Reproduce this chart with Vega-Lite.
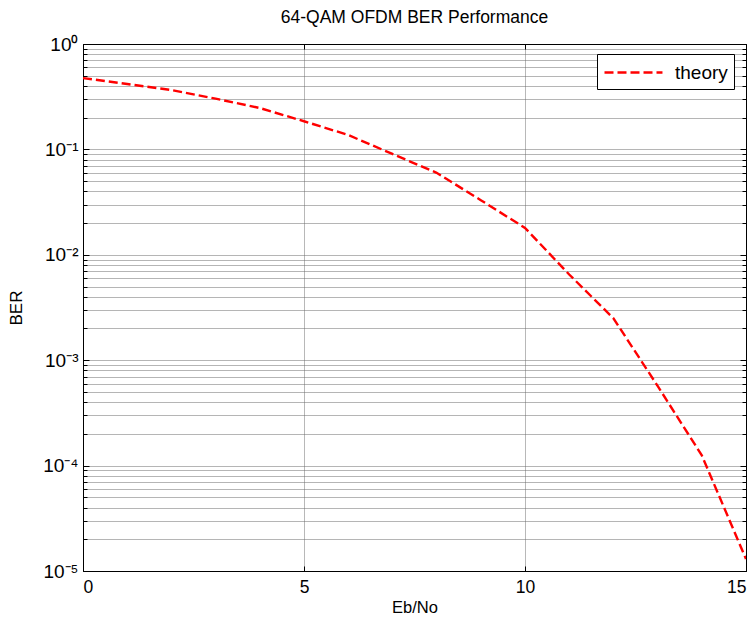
{
  "$schema": "https://vega.github.io/schema/vega-lite/v6.json",
  "width": 663,
  "height": 527,
  "autosize": "none",
  "padding": {"left": 83, "top": 44, "right": 9, "bottom": 46},
  "background": "white",
  "config": {
    "font": "Liberation Sans",
    "view": {"stroke": "black", "strokeWidth": 1}
  },
  "title": {"text": "64-QAM OFDM BER Performance", "fontSize": 17.5, "fontWeight": "normal", "color": "black", "offset": 9, "anchor": "middle"},
  "data": {"values": [
    {"ebno": 0, "ber": 0.475, "series": "theory"},
    {"ebno": 1, "ber": 0.417, "series": "theory"},
    {"ebno": 2, "ber": 0.366, "series": "theory"},
    {"ebno": 3, "ber": 0.303, "series": "theory"},
    {"ebno": 4, "ber": 0.247, "series": "theory"},
    {"ebno": 5, "ber": 0.185, "series": "theory"},
    {"ebno": 6, "ber": 0.137, "series": "theory"},
    {"ebno": 7, "ber": 0.0905, "series": "theory"},
    {"ebno": 8, "ber": 0.060, "series": "theory"},
    {"ebno": 9, "ber": 0.033, "series": "theory"},
    {"ebno": 10, "ber": 0.018, "series": "theory"},
    {"ebno": 11, "ber": 0.0065, "series": "theory"},
    {"ebno": 12, "ber": 0.0025, "series": "theory"},
    {"ebno": 13, "ber": 0.00057, "series": "theory"},
    {"ebno": 14, "ber": 0.000125, "series": "theory"},
    {"ebno": 15, "ber": 0.000013, "series": "theory"}
  ]},
  "layer": [
    {
      "mark": {"type": "line", "strokeWidth": 2.4, "strokeDash": [9, 4], "clip": true},
      "encoding": {
        "x": {"field": "ebno", "type": "quantitative",
          "scale": {"domain": [0, 15], "nice": false, "zero": false},
          "axis": {"orient": "bottom", "title": "Eb/No", "values": [0, 5, 10, 15],
            "grid": true, "gridColor": "#b8b8b8", "gridWidth": 1,
            "domainColor": "black", "tickColor": "black", "tickSize": -5,
            "labelFontSize": 17.5, "labelColor": "black", "labelPadding": 12,
            "titleFontSize": 16.5, "titleFontWeight": "normal", "titleColor": "black", "titlePadding": 4}},
        "y": {"field": "ber", "type": "quantitative",
          "scale": {"type": "log", "domain": [0.00001, 1], "nice": false},
          "axis": {"orient": "left", "title": "BER",
            "values": [0.00001,0.00002,0.00003,0.00004,0.00005,0.00006,0.00007,0.00008,0.00009,
                       0.0001,0.0002,0.0003,0.0004,0.0005,0.0006,0.0007,0.0008,0.0009,
                       0.001,0.002,0.003,0.004,0.005,0.006,0.007,0.008,0.009,
                       0.01,0.02,0.03,0.04,0.05,0.06,0.07,0.08,0.09,
                       0.1,0.2,0.3,0.4,0.5,0.6,0.7,0.8,0.9,1],
            "labelExpr": "abs(log(datum.value)/LN10 - round(log(datum.value)/LN10)) < 1e-6 ? '10' + ['⁰','⁻¹','⁻²','⁻³','⁻⁴','⁻⁵'][round(-log(datum.value)/LN10)] : ''",
            "grid": true, "gridColor": "#6a6a6a", "gridDash": [1, 1], "gridWidth": 1,
            "domainColor": "black", "tickColor": "black",
            "tickSize": {"condition": {"test": "abs(log(datum.value)/LN10 - round(log(datum.value)/LN10)) < 1e-6", "value": -6}, "value": -4},
            "labelFontSize": 19, "labelColor": "black", "labelPadding": 11,
            "titleFontSize": 17, "titleFontWeight": "normal", "titleColor": "black", "titlePadding": 17}},
        "color": {"field": "series", "type": "nominal",
          "scale": {"domain": ["theory"], "range": ["#ff0000"]},
          "legend": {"orient": "none", "legendX": 514, "legendY": 10, "title": null,
            "strokeColor": "black", "fillColor": "white", "padding": 6,
            "symbolType": "M-1,0H4.27", "symbolSize": 484, "symbolStrokeWidth": 2.4, "symbolDash": [9, 4],
            "symbolFillColor": "transparent",
            "labelFontSize": 19, "labelColor": "black", "labelOffset": 47}}
      }
    },
    {
      "mark": {"type": "line", "opacity": 0},
      "encoding": {
        "x": {"field": "ebno", "type": "quantitative",
          "axis": {"orient": "top", "title": null, "values": [0, 5, 10, 15], "labels": false, "grid": false,
            "domainColor": "black", "tickColor": "black", "tickSize": -5}},
        "y": {"field": "ber", "type": "quantitative",
          "axis": {"orient": "right", "title": null, "labels": false, "grid": false,
            "values": [0.00001,0.00002,0.00003,0.00004,0.00005,0.00006,0.00007,0.00008,0.00009,
                       0.0001,0.0002,0.0003,0.0004,0.0005,0.0006,0.0007,0.0008,0.0009,
                       0.001,0.002,0.003,0.004,0.005,0.006,0.007,0.008,0.009,
                       0.01,0.02,0.03,0.04,0.05,0.06,0.07,0.08,0.09,
                       0.1,0.2,0.3,0.4,0.5,0.6,0.7,0.8,0.9,1],
            "domainColor": "black", "tickColor": "black",
            "tickSize": {"condition": {"test": "abs(log(datum.value)/LN10 - round(log(datum.value)/LN10)) < 1e-6", "value": -6}, "value": -4}}}
      }
    }
  ],
  "resolve": {"axis": {"x": "independent", "y": "independent"}}
}
